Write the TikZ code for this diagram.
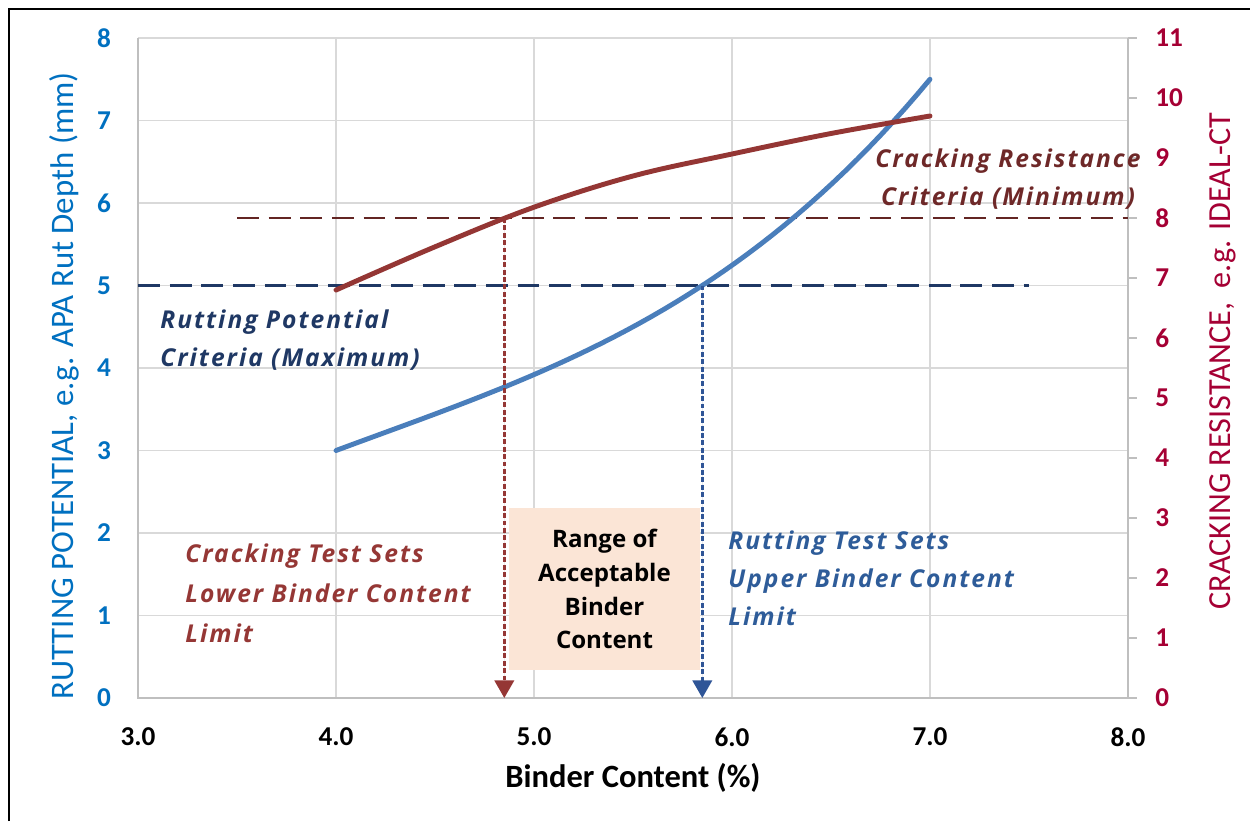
\documentclass[tikz,border=0pt]{standalone}
\usepackage{fontspec}
\setmainfont{Carlito}
\newfontfamily\annotfont[LetterSpace=8]{Open Sans}
\newfontfamily\boxfont{Open Sans}
\usetikzlibrary{arrows.meta}
\definecolor{blueline}{HTML}{4A7EBB}
\definecolor{redline}{HTML}{943634}
\definecolor{navy}{HTML}{1F3864}
\definecolor{maroon}{HTML}{632523}
\definecolor{crackcrit}{HTML}{6E2828}
\definecolor{redtext}{HTML}{953735}
\definecolor{bluetext}{HTML}{2E5C99}
\definecolor{bluearrow}{HTML}{2F5597}
\definecolor{leftax}{HTML}{0070C0}
\definecolor{rightax}{HTML}{A50034}
\definecolor{gridc}{HTML}{D9D9D9}
\definecolor{axisc}{HTML}{BFBFBF}
\definecolor{peach}{HTML}{FBE5D6}
\tikzset{
  gridline/.style={draw=gridc, line width=0.7pt},
  axisline/.style={draw=axisc, line width=1pt},
  ticklbl/.style={font=\bfseries\fontsize{15.5}{18}\selectfont, inner sep=0pt},
  annot/.style={font=\annotfont\bfseries\itshape\fontsize{14}{21.5}\selectfont, inner sep=0pt},
  curve/.style={line width=2.8pt, line cap=round, line join=round},
  critdash/.style={line width=1.4pt, dash pattern=on 12.5pt off 5.5pt},
  dropline/.style={line width=1.6pt, dash pattern=on 2.8pt off 1.4pt, -{Triangle[length=10pt,width=11pt]}},
}
\begin{document}
\begin{tikzpicture}[x=0.02cm, y=-0.02cm,
  declare function={px(\t)=138+(\t-3)*198; pyl(\v)=698-\v*82.5; pyr(\v)=698-\v*60;
    rut(\t)=3+0.892*(\t-4)-0.0595*(\t-4)^2+0.0874*(\t-4)^3;}]
\useasboundingbox (0,0) rectangle (1250,821);
% frame
\draw[line width=1.7pt, black] (9,821) -- (9,9) -- (1250,9);
% gridlines
\foreach \v in {1,...,8} \draw[gridline] (138,{pyl(\v)}) -- (1128,{pyl(\v)});
\foreach \t in {4,5,6,7} \draw[gridline] ({px(\t)},38) -- ({px(\t)},698);
% axes
\draw[axisline] (138,38) -- (138,698) -- (1128,698);
\draw[axisline] (1128,38) -- (1128,698);
\foreach \v in {0,...,11} \draw[axisline] (1128,{pyr(\v)}) -- (1137,{pyr(\v)});
% tick labels
\foreach \v in {0,...,8} \node[ticklbl, text=leftax] (yl\v) at (104,{pyl(\v)}) {\v};
\foreach \v in {0,...,11} \node[ticklbl, text=rightax, anchor=west] (yr\v) at (1155,{pyr(\v)}) {\v};
\foreach \t in {3,4,5,6,7,8} \node[ticklbl] (x\t) at ({px(\t)},737) {\t.0};
% axis titles
\node[font=\fontsize{18.7}{20}\selectfont, text=leftax, rotate=90, inner sep=0pt] (ltitle) at (64,386) {RUTTING POTENTIAL, e.g. APA Rut Depth (mm)};
\node[font=\fontsize{18.3}{20}\selectfont, text=rightax, rotate=90, inner sep=0pt] (rtitle) at (1223,361) {CRACKING RESISTANCE,\ \ e.g. IDEAL-CT};
\node[font=\bfseries\fontsize{18.5}{20}\selectfont, inner sep=0pt] (xtitle) at (633,778) {Binder Content (\%)};
% range box
\node[fill=peach, minimum width=108.3pt, minimum height=91.9pt, inner sep=0pt, align=center,
      font=\boxfont\bfseries\fontsize{13.7}{19.3}\selectfont] (range) at (604.5,589) {Range of\\Acceptable\\Binder\\Content};
% criteria dashed lines
\coordinate (rcs) at ({px(3.5)},{pyr(8)});
\coordinate (rce) at ({px(8)},{pyr(8)});
\coordinate (bcs) at ({px(3)},{pyl(5)});
\coordinate (bce) at ({px(7.5)},{pyl(5)});
\draw[critdash, draw=maroon] (rcs) -- (rce);
\draw[critdash, draw=navy] (bcs) -- (bce);
% curves
\draw[curve, draw=blueline] plot[domain=4:7, samples=50] ({px(\x)},{pyl(rut(\x))});
\draw[curve, draw=redline] plot[smooth, tension=0.6] coordinates {(336,290) (435,246.8) (534,207.2) (633,176) (732,154) (831,133.5) (930,116)};
% drop lines
\coordinate (rtop) at ({px(4.85)},{pyr(8)});
\coordinate (rbot) at ({px(4.85)},698);
\coordinate (btop) at ({px(5.85)},{pyl(5)});
\coordinate (bbot) at ({px(5.85)},698);
\draw[dropline, draw=redtext, fill=redtext] (rtop) -- (rbot);
\draw[dropline, draw=bluearrow, fill=bluearrow] (btop) -- (bbot);
% annotations
\node[annot, text=navy, align=left, anchor=west] (rutcrit) at (160,340) {Rutting Potential\\Criteria (Maximum)};
\node[annot, text=crackcrit, align=center] (crackcritlbl) at (1008,179) {Cracking Resistance\\Criteria (Minimum)};
\node[annot, text=redtext, align=left, anchor=west, font=\annotfont\bfseries\itshape\fontsize{14}{22.7}\selectfont] (cracksets) at (185,593) {Cracking Test Sets\\Lower Binder Content\\Limit};
\node[annot, text=bluetext, align=left, anchor=west] (rutsets) at (728,578) {Rutting Test Sets\\Upper Binder Content\\Limit};
\end{tikzpicture}
\end{document}
